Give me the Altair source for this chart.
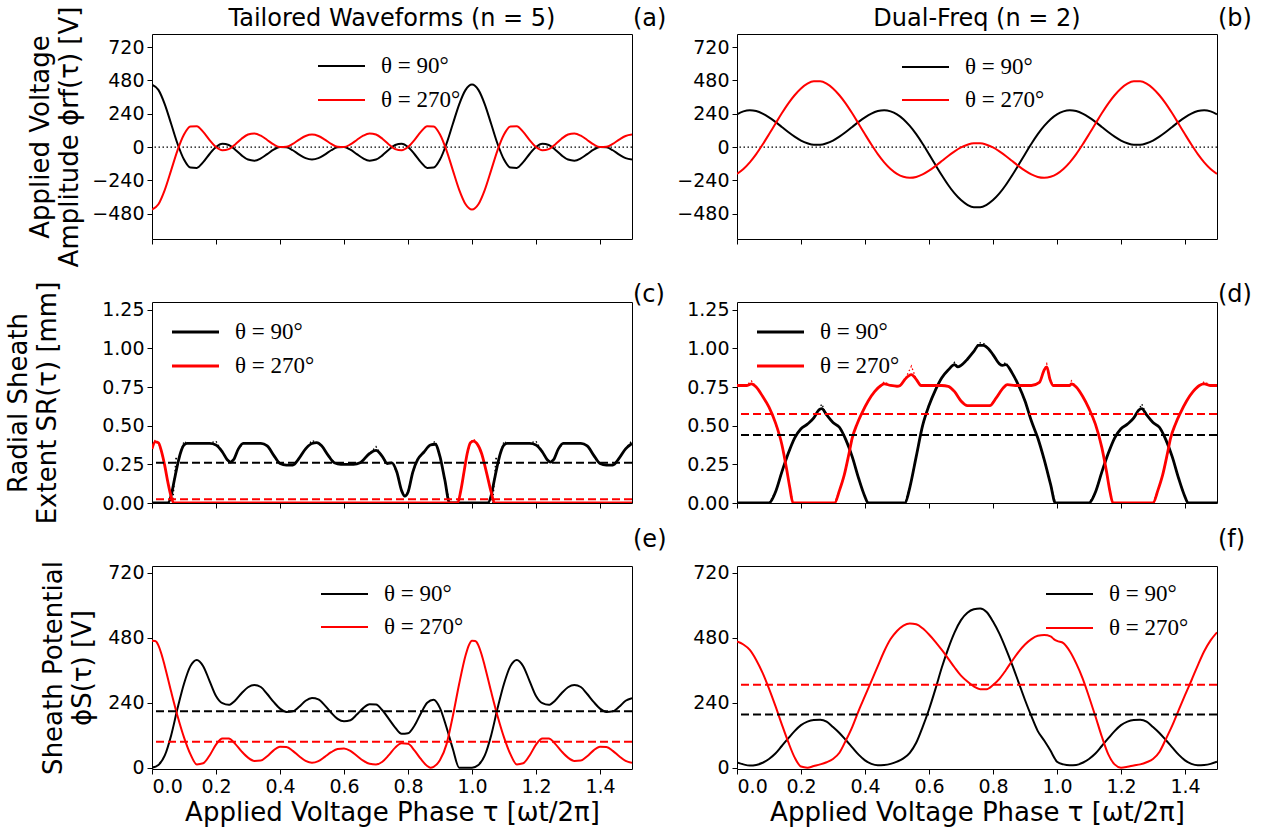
import altair as alt
import pandas as pd

# ---------------- text ----------------
COL_TITLES = ["Tailored Waveforms (n = 5)", "Dual-Freq (n = 2)"]
PANEL_LABELS = ["(a)", "(b)", "(c)", "(d)", "(e)", "(f)"]
LEGEND_LABELS = ["θ = 90°", "θ = 270°"]
SERIES_COLORS = ["#000000", "#ff0000"]
X_TICKS = [0.0, 0.2, 0.4, 0.6, 0.8, 1.0, 1.2, 1.4]
X_TITLE = "Applied Voltage Phase τ [ωt/2π]"
Y_TITLES = [["Applied Voltage", "Amplitude ϕrf(τ) [V]"],
            ["Radial Sheath", "Extent SR(τ) [mm]"],
            ["Sheath Potential", "ϕS(τ) [V]"]]
VOLT_TICKS = [-480, -240, 0, 240, 480, 720]
SR_TICKS = [0.0, 0.25, 0.5, 0.75, 1.0, 1.25]
SHEATH_TICKS = [0, 240, 480, 720]

# ---------------- data: applied voltage (a, b) ----------------
TAU_AB = [0.0, 0.02, 0.04, 0.06, 0.08, 0.1, 0.12, 0.14, 0.16, 0.18, 0.2, 0.22, 0.24, 0.26, 0.28, 0.3,
          0.32, 0.34, 0.36, 0.38, 0.4, 0.42, 0.44, 0.46, 0.48, 0.5, 0.52, 0.54, 0.56, 0.58, 0.6, 0.62,
          0.64, 0.66, 0.68, 0.7, 0.72, 0.74, 0.76, 0.78, 0.8, 0.82, 0.84, 0.86, 0.88, 0.9, 0.92, 0.94,
          0.96, 0.98, 1.0, 1.02, 1.04, 1.06, 1.08, 1.1, 1.12, 1.14, 1.16, 1.18, 1.2, 1.22, 1.24, 1.26,
          1.28, 1.3, 1.32, 1.34, 1.36, 1.38, 1.4, 1.42, 1.44, 1.46, 1.48, 1.5]

PHI_RF_A_90 = [450, 412, 308, 166, 22, -90, -148, -150, -109, -50, 0, 23, 15, -19, -60, -90,
               -98, -82, -51, -19, 0, -2, -23, -54, -80, -90, -80, -54, -23, -2, 0, -19,
               -51, -82, -98, -90, -60, -19, 15, 23, 0, -50, -109, -150, -148, -90, 22, 166,
               308, 412, 450, 412, 308, 166, 22, -90, -148, -150, -109, -50, 0, 23, 15, -19,
               -60, -90, -98, -82, -51, -19, 0, -2, -23, -54, -80, -90]
PHI_RF_A_270 = [-450, -412, -308, -166, -22, 90, 148, 150, 109, 50, 0, -23, -15, 19, 60, 90,
                98, 82, 51, 19, 0, 2, 23, 54, 80, 90, 80, 54, 23, 2, 0, 19,
                51, 82, 98, 90, 60, 19, -15, -23, 0, 50, 109, 150, 148, 90, -22, -166,
                -308, -412, -450, -412, -308, -166, -22, 90, 148, 150, 109, 50, 0, -23, -15, 19,
                60, 90, 98, 82, 51, 19, 0, 2, 23, 54, 80, 90]
PHI_RF_B_90 = [236, 257, 265, 259, 241, 214, 181, 145, 108, 75, 47, 27, 16, 16, 27, 47,
               75, 108, 145, 181, 214, 241, 259, 265, 257, 236, 201, 152, 93, 24, -51, -128,
               -203, -273, -334, -382, -416, -434, -434, -416, -382, -334, -273, -203, -128, -51, 24, 93,
               152, 201, 236, 257, 265, 259, 241, 214, 181, 145, 108, 75, 47, 27, 16, 16,
               27, 47, 75, 108, 145, 181, 214, 241, 259, 265, 257, 236]
PHI_RF_B_270 = [-193, -158, -110, -51, 18, 92, 168, 243, 313, 373, 422, 456, 473, 473, 456, 422,
                373, 313, 243, 168, 92, 18, -51, -110, -158, -193, -214, -221, -215, -197, -170, -137,
                -101, -64, -31, -3, 17, 28, 28, 17, -3, -31, -64, -101, -137, -170, -197, -215,
                -221, -214, -193, -158, -110, -51, 18, 92, 168, 243, 313, 373, 422, 456, 473, 473,
                456, 422, 373, 313, 243, 168, 92, 18, -51, -110, -158, -193]

# ---------------- data: radial sheath extent (c, d), (tau, mm) ----------------
SR_C_90 = [(0.0, 0.0), (0.05, 0.0), (0.06, 0.05), (0.07, 0.15), (0.08, 0.25), (0.09, 0.33), (0.1, 0.375),
           (0.11, 0.385), (0.14, 0.385), (0.18, 0.385), (0.2, 0.375), (0.22, 0.33), (0.235, 0.28),
           (0.245, 0.265), (0.255, 0.28), (0.27, 0.35), (0.285, 0.385), (0.34, 0.385), (0.36, 0.37),
           (0.38, 0.31), (0.4, 0.255), (0.42, 0.245), (0.44, 0.245), (0.46, 0.29), (0.48, 0.35),
           (0.5, 0.385), (0.515, 0.39), (0.53, 0.37), (0.55, 0.31), (0.57, 0.26), (0.59, 0.25),
           (0.63, 0.25), (0.65, 0.26), (0.68, 0.32), (0.7, 0.34), (0.72, 0.3), (0.735, 0.255),
           (0.75, 0.26), (0.765, 0.2), (0.78, 0.08), (0.79, 0.045), (0.8, 0.07), (0.815, 0.2),
           (0.83, 0.28), (0.85, 0.33), (0.87, 0.375), (0.885, 0.38), (0.9, 0.3), (0.915, 0.15),
           (0.93, 0.0), (1.05, 0.0), (1.06, 0.05), (1.07, 0.15), (1.08, 0.25), (1.09, 0.33),
           (1.1, 0.375), (1.11, 0.385), (1.14, 0.385), (1.18, 0.385), (1.2, 0.375), (1.22, 0.33),
           (1.235, 0.28), (1.245, 0.265), (1.255, 0.28), (1.27, 0.35), (1.285, 0.385), (1.34, 0.385),
           (1.36, 0.37), (1.38, 0.31), (1.4, 0.255), (1.42, 0.245), (1.44, 0.245), (1.46, 0.29),
           (1.48, 0.35), (1.5, 0.385)]
SR_C_270 = [(0.0, 0.35), (0.01, 0.395), (0.02, 0.39), (0.03, 0.33), (0.04, 0.24), (0.05, 0.13),
            (0.06, 0.04), (0.068, 0.0), (0.955, 0.0), (0.965, 0.08), (0.975, 0.2), (0.985, 0.32),
            (0.995, 0.39), (1.005, 0.4), (1.015, 0.385), (1.03, 0.32), (1.045, 0.2), (1.06, 0.07),
            (1.07, 0.0), (1.5, 0.0)]
SR_D_90 = [(0.0, 0.0), (0.1, 0.0), (0.12, 0.07), (0.14, 0.2), (0.16, 0.32), (0.18, 0.42), (0.2, 0.48),
           (0.22, 0.51), (0.24, 0.55), (0.255, 0.6), (0.265, 0.61), (0.28, 0.57), (0.3, 0.52),
           (0.32, 0.49), (0.34, 0.41), (0.36, 0.3), (0.38, 0.16), (0.4, 0.04), (0.41, 0.0),
           (0.525, 0.0), (0.54, 0.1), (0.56, 0.3), (0.58, 0.5), (0.6, 0.63), (0.62, 0.73),
           (0.64, 0.81), (0.66, 0.86), (0.68, 0.895), (0.69, 0.88), (0.7, 0.89), (0.72, 0.93),
           (0.74, 0.98), (0.755, 1.02), (0.77, 1.02), (0.785, 1.0), (0.8, 0.96), (0.82, 0.9),
           (0.83, 0.89), (0.84, 0.895), (0.86, 0.84), (0.88, 0.76), (0.9, 0.66), (0.92, 0.53),
           (0.94, 0.42), (0.96, 0.28), (0.98, 0.12), (0.995, 0.0), (1.1, 0.0), (1.12, 0.07),
           (1.14, 0.2), (1.16, 0.32), (1.18, 0.42), (1.2, 0.48), (1.22, 0.51), (1.24, 0.55),
           (1.255, 0.6), (1.265, 0.61), (1.28, 0.57), (1.3, 0.52), (1.32, 0.49), (1.34, 0.41),
           (1.36, 0.3), (1.38, 0.16), (1.4, 0.04), (1.41, 0.0), (1.5, 0.0)]
SR_D_270 = [(0.0, 0.76), (0.03, 0.76), (0.045, 0.77), (0.06, 0.75), (0.08, 0.69), (0.1, 0.62),
            (0.12, 0.52), (0.14, 0.38), (0.155, 0.22), (0.165, 0.1), (0.175, 0.0), (0.305, 0.0),
            (0.32, 0.08), (0.335, 0.18), (0.35, 0.32), (0.36, 0.42), (0.375, 0.51), (0.39, 0.58),
            (0.41, 0.66), (0.43, 0.72), (0.45, 0.76), (0.46, 0.77), (0.48, 0.76), (0.5, 0.755),
            (0.51, 0.76), (0.525, 0.8), (0.545, 0.83), (0.56, 0.8), (0.575, 0.76), (0.6, 0.76),
            (0.64, 0.76), (0.66, 0.755), (0.68, 0.72), (0.7, 0.66), (0.72, 0.63), (0.79, 0.63),
            (0.81, 0.68), (0.83, 0.74), (0.845, 0.765), (0.87, 0.76), (0.92, 0.76), (0.945, 0.78),
            (0.96, 0.86), (0.968, 0.88), (0.978, 0.8), (0.988, 0.76), (1.04, 0.76), (1.045, 0.77),
            (1.06, 0.75), (1.08, 0.69), (1.1, 0.61), (1.12, 0.51), (1.14, 0.36), (1.155, 0.2),
            (1.165, 0.08), (1.175, 0.0), (1.3, 0.0), (1.315, 0.08), (1.33, 0.18), (1.345, 0.32),
            (1.355, 0.42), (1.37, 0.51), (1.385, 0.58), (1.405, 0.66), (1.425, 0.72), (1.445, 0.76),
            (1.46, 0.77), (1.48, 0.76), (1.5, 0.76)]

# dotted companions (unsmoothed extent): points where they leave the solid curves
DOT_C_90_PEAKS = [(0.065, 0.0), (0.075, 0.3), (0.1, 0.4), (0.2, 0.4), (0.5, 0.405), (0.7, 0.365),
                  (0.885, 0.4), (1.065, 0.0), (1.075, 0.3), (1.1, 0.4), (1.2, 0.4), (1.5, 0.405)]
DOT_C_270_PEAKS = [(0.01, 0.41), (1.005, 0.415)]
DOT_D_90_PEAKS = [(0.265, 0.64), (0.68, 0.91), (0.755, 1.035), (0.77, 1.035), (0.84, 0.91),
                  (1.265, 0.64)]
DOT_D_270_PEAKS = [(0.045, 0.79), (0.46, 0.785), (0.545, 0.885), (0.968, 0.9), (1.045, 0.79),
                   (1.46, 0.785)]

# ---------------- data: sheath potential (e, f), (tau, V) ----------------
PHI_S_E_90 = [(0.0, 0), (0.02, 10), (0.04, 45), (0.06, 120), (0.08, 220), (0.1, 310), (0.12, 375),
              (0.14, 398), (0.16, 375), (0.18, 320), (0.2, 265), (0.22, 238), (0.24, 232), (0.26, 248),
              (0.28, 275), (0.3, 297), (0.32, 305), (0.34, 298), (0.36, 272), (0.38, 243), (0.4, 218),
              (0.42, 206), (0.44, 208), (0.46, 225), (0.48, 247), (0.5, 257), (0.52, 252), (0.54, 230),
              (0.56, 203), (0.58, 180), (0.6, 171), (0.62, 175), (0.64, 196), (0.66, 220), (0.68, 234),
              (0.7, 233), (0.72, 212), (0.74, 180), (0.76, 148), (0.78, 125), (0.8, 127), (0.82, 155),
              (0.84, 200), (0.86, 240), (0.88, 251), (0.9, 220), (0.92, 150), (0.94, 70), (0.96, 0),
              (1.0, 0), (1.02, 10), (1.04, 45), (1.06, 120), (1.08, 220), (1.1, 310), (1.12, 375),
              (1.14, 398), (1.16, 375), (1.18, 320), (1.2, 265), (1.22, 238), (1.24, 232), (1.26, 248),
              (1.28, 275), (1.3, 297), (1.32, 305), (1.34, 298), (1.36, 272), (1.38, 243), (1.4, 218),
              (1.42, 206), (1.44, 208), (1.46, 225), (1.48, 247), (1.5, 257)]
PHI_S_E_270 = [(0.0, 469), (0.01, 468), (0.02, 452), (0.03, 418), (0.04, 375), (0.06, 280), (0.08, 190),
               (0.1, 112), (0.12, 50), (0.14, 12), (0.16, 16), (0.18, 45), (0.2, 85), (0.22, 108),
               (0.24, 108), (0.26, 88), (0.28, 60), (0.3, 37), (0.32, 25), (0.34, 26), (0.36, 42),
               (0.38, 64), (0.4, 77), (0.42, 76), (0.44, 62), (0.46, 42), (0.48, 25), (0.5, 18),
               (0.52, 24), (0.54, 40), (0.56, 57), (0.58, 69), (0.6, 71), (0.62, 62), (0.64, 44),
               (0.66, 26), (0.68, 14), (0.7, 12), (0.72, 22), (0.74, 46), (0.76, 74), (0.78, 90),
               (0.8, 88), (0.82, 64), (0.84, 32), (0.86, 6), (0.87, 0), (0.88, 3), (0.9, 28), (0.92, 85),
               (0.94, 190), (0.96, 310), (0.98, 415), (0.99, 452), (1.0, 469), (1.01, 468), (1.02, 452),
               (1.03, 418), (1.04, 375), (1.06, 280), (1.08, 190), (1.1, 112), (1.12, 50), (1.14, 12),
               (1.16, 16), (1.18, 45), (1.2, 85), (1.22, 108), (1.24, 108), (1.26, 88), (1.28, 60),
               (1.3, 37), (1.32, 25), (1.34, 26), (1.36, 42), (1.38, 64), (1.4, 77), (1.42, 76),
               (1.44, 62), (1.46, 42), (1.48, 25), (1.5, 18)]
PHI_S_F_90 = [(0.0, 19), (0.02, 12), (0.04, 8), (0.06, 10), (0.08, 18), (0.1, 32), (0.12, 52), (0.14, 80),
              (0.16, 108), (0.18, 135), (0.2, 157), (0.22, 170), (0.24, 176), (0.26, 177), (0.28, 170),
              (0.3, 150), (0.32, 128), (0.34, 102), (0.36, 75), (0.38, 48), (0.4, 27), (0.42, 14),
              (0.44, 9), (0.46, 10), (0.48, 14), (0.5, 22), (0.52, 34), (0.54, 55), (0.56, 92),
              (0.58, 150), (0.6, 215), (0.62, 290), (0.64, 370), (0.66, 440), (0.68, 500), (0.7, 545),
              (0.72, 572), (0.74, 585), (0.76, 588), (0.78, 575), (0.8, 540), (0.82, 495), (0.84, 440),
              (0.86, 380), (0.88, 315), (0.9, 250), (0.92, 190), (0.94, 135), (0.96, 100), (0.98, 62),
              (0.995, 30), (1.0, 22), (1.02, 12), (1.04, 9), (1.06, 10), (1.08, 18), (1.1, 32),
              (1.12, 52), (1.14, 80), (1.16, 108), (1.18, 135), (1.2, 157), (1.22, 170), (1.24, 176),
              (1.26, 177), (1.28, 170), (1.3, 150), (1.32, 128), (1.34, 102), (1.36, 75), (1.38, 48),
              (1.4, 27), (1.42, 14), (1.44, 9), (1.46, 10), (1.48, 14), (1.5, 22)]
PHI_S_F_270 = [(0.0, 466), (0.02, 455), (0.04, 435), (0.06, 398), (0.08, 350), (0.1, 292), (0.12, 228),
               (0.14, 160), (0.16, 95), (0.18, 38), (0.2, 4), (0.22, 0), (0.24, 6), (0.26, 12),
               (0.28, 20), (0.3, 32), (0.32, 55), (0.34, 100), (0.36, 150), (0.38, 210), (0.4, 265),
               (0.42, 320), (0.44, 375), (0.46, 430), (0.48, 475), (0.5, 505), (0.52, 525), (0.54, 533),
               (0.56, 530), (0.58, 515), (0.6, 492), (0.62, 465), (0.64, 435), (0.66, 403), (0.68, 370),
               (0.7, 340), (0.72, 318), (0.74, 300), (0.76, 290), (0.78, 290), (0.8, 305), (0.82, 328),
               (0.84, 360), (0.86, 395), (0.88, 428), (0.9, 455), (0.92, 475), (0.94, 487), (0.96, 490),
               (0.98, 485), (0.99, 475), (1.0, 468), (1.02, 460), (1.04, 430), (1.06, 385), (1.08, 330),
               (1.1, 262), (1.12, 190), (1.14, 115), (1.16, 50), (1.18, 12), (1.2, 0), (1.22, 3),
               (1.24, 8), (1.26, 12), (1.28, 20), (1.3, 32), (1.32, 58), (1.34, 105), (1.36, 155),
               (1.38, 212), (1.4, 268), (1.42, 322), (1.44, 378), (1.46, 430), (1.48, 470), (1.5, 500)]

# time-averaged values (dashed lines): [theta=90, theta=270]
MEAN_C = [0.26, 0.025]
MEAN_D = [0.44, 0.575]
MEAN_E = [208, 96]
MEAN_F = [196, 306]

# ---------------- styling ----------------
FONT = "DejaVu Sans"
SERIF = "Liberation Serif"
W = 480


def grid_df(tau, vals):
    return pd.DataFrame({"tau": tau, "v": vals})


def pair_df(pairs):
    return pd.DataFrame({"tau": [p[0] for p in pairs], "v": [p[1] for p in pairs]})


def dotted_df(pairs, peaks):
    d = dict(pairs)
    d.update(dict(peaks))
    items = sorted(d.items())
    return pd.DataFrame({"tau": [k for k, _ in items], "v": [v for _, v in items]})


def make_panel(curves, means, zero_line, y_dom, y_ticks, y_fmt, h, bottom_row, y_title,
               title_x, leg, label, label_y, lw, col_title=None, dotted=None):
    x_axis_kw = dict(values=X_TICKS, format=".1f", labels=bottom_row, tickSize=5)
    if bottom_row:
        x_axis_kw.update(title=X_TITLE, titlePadding=3)
    else:
        x_axis_kw.update(title="")
    x_enc = alt.X("tau:Q", scale=alt.Scale(domain=[0, 1.5], nice=False, zero=False),
                  axis=alt.Axis(**x_axis_kw))
    y_enc = alt.Y("v:Q", scale=alt.Scale(domain=y_dom, nice=False, zero=False),
                  axis=alt.Axis(values=y_ticks, format=y_fmt, title=y_title, titleX=title_x,
                                titleY=h / 2, titleAngle=270, titleAlign="center",
                                titleBaseline="bottom", titleLineHeight=29, tickSize=5))
    layers = []
    if zero_line:
        layers.append(alt.Chart(pd.DataFrame({"v": [0.0]})).mark_rule(
            color="black", strokeDash=[1.5, 2.5], strokeWidth=1.3).encode(y=y_enc))
    if dotted:
        for df, col in zip(dotted, SERIES_COLORS):
            layers.append(alt.Chart(df).mark_line(color=col, strokeWidth=1.3, strokeDash=[1.5, 2.5],
                                                  clip=True).encode(x=x_enc, y=y_enc))
    for df, col in zip(curves, SERIES_COLORS):
        layers.append(alt.Chart(df).mark_line(color=col, strokeWidth=lw, interpolate="monotone",
                                              clip=True).encode(x=x_enc, y=y_enc))
    if means:
        for m, col in zip(means, SERIES_COLORS):
            layers.append(alt.Chart(pd.DataFrame({"v": [m]})).mark_rule(
                color=col, strokeDash=[8, 4], strokeWidth=2).encode(y=y_enc))
    lx, ly = leg
    for lab, col, yy in zip(LEGEND_LABELS, SERIES_COLORS, ly):
        ldf = pd.DataFrame({"label": [lab]})
        layers.append(alt.Chart(ldf).mark_rule(color=col, strokeWidth=lw).encode(
            x=alt.value(lx), x2=alt.value(lx + 47), y=alt.value(yy)))
        layers.append(alt.Chart(ldf).mark_text(align="left", baseline="middle", font=SERIF,
                                               fontSize=23, color="black").encode(
            x=alt.value(lx + 63), y=alt.value(yy), text="label:N"))
    layers.append(alt.Chart(pd.DataFrame({"label": [label]})).mark_text(
        align="left", baseline="alphabetic", font=FONT, fontSize=24, color="black").encode(
        x=alt.value(W + 1), y=alt.value(label_y), text="label:N"))
    if col_title:
        layers.append(alt.Chart(pd.DataFrame({"label": [col_title]})).mark_text(
            align="center", baseline="alphabetic", font=FONT, fontSize=24, color="black").encode(
            x=alt.value(W / 2), y=alt.value(-8), text="label:N"))
    return alt.layer(*layers).properties(width=W, height=h)


pa = make_panel([grid_df(TAU_AB, PHI_RF_A_90), grid_df(TAU_AB, PHI_RF_A_270)], None, True,
                [-662, 814], VOLT_TICKS, "d", 205, False, Y_TITLES[0], -99,
                (166, [32, 66]), PANEL_LABELS[0], -8, 2, COL_TITLES[0])
pb = make_panel([grid_df(TAU_AB, PHI_RF_B_90), grid_df(TAU_AB, PHI_RF_B_270)], None, True,
                [-662, 814], VOLT_TICKS, "d", 205, False, "", -99,
                (165, [33, 66]), PANEL_LABELS[1], -8, 2, COL_TITLES[1])
pc = make_panel([pair_df(SR_C_90), pair_df(SR_C_270)], MEAN_C, False,
                [0, 1.3], SR_TICKS, ".2f", 201, False, Y_TITLES[1], -121,
                (20, [30, 64]), PANEL_LABELS[2], 0, 2.8,
                dotted=[dotted_df(SR_C_90, DOT_C_90_PEAKS), dotted_df(SR_C_270, DOT_C_270_PEAKS)])
pd_ = make_panel([pair_df(SR_D_90), pair_df(SR_D_270)], MEAN_D, False,
                 [0, 1.3], SR_TICKS, ".2f", 201, False, "", -121,
                 (20, [30, 64]), PANEL_LABELS[3], 0, 2.8,
                 dotted=[dotted_df(SR_D_90, DOT_D_90_PEAKS), dotted_df(SR_D_270, DOT_D_270_PEAKS)])
pe = make_panel([pair_df(PHI_S_E_90), pair_df(PHI_S_E_270)], MEAN_E, False,
                [-5, 745], SHEATH_TICKS, "d", 203, True, Y_TITLES[2], -86,
                (169, [28, 61]), PANEL_LABELS[4], -19, 2)
pf = make_panel([pair_df(PHI_S_F_90), pair_df(PHI_S_F_270)], MEAN_F, False,
                [-5, 745], SHEATH_TICKS, "d", 203, True, "", -86,
                (309, [28, 62]), PANEL_LABELS[5], -19, 2)

chart = alt.concat(
    pa, pb, pc, pd_, pe, pf, columns=2,
    spacing={"row": 63, "column": 105}, bounds="flush",
).properties(
    padding={"left": 4, "top": 5, "right": 5, "bottom": 5},
    background="white",
).configure_view(
    stroke="black", strokeWidth=1
).configure_axis(
    domain=False, grid=False, ticks=True, tickColor="black", tickWidth=1,
    labelFont=FONT, labelFontSize=19, labelColor="black", labelPadding=3,
    titleFont=FONT, titleFontSize=26, titleFontWeight="normal", titleColor="black",
)

chart.save("out.html", embed_options={"renderer": "svg", "actions": False})
